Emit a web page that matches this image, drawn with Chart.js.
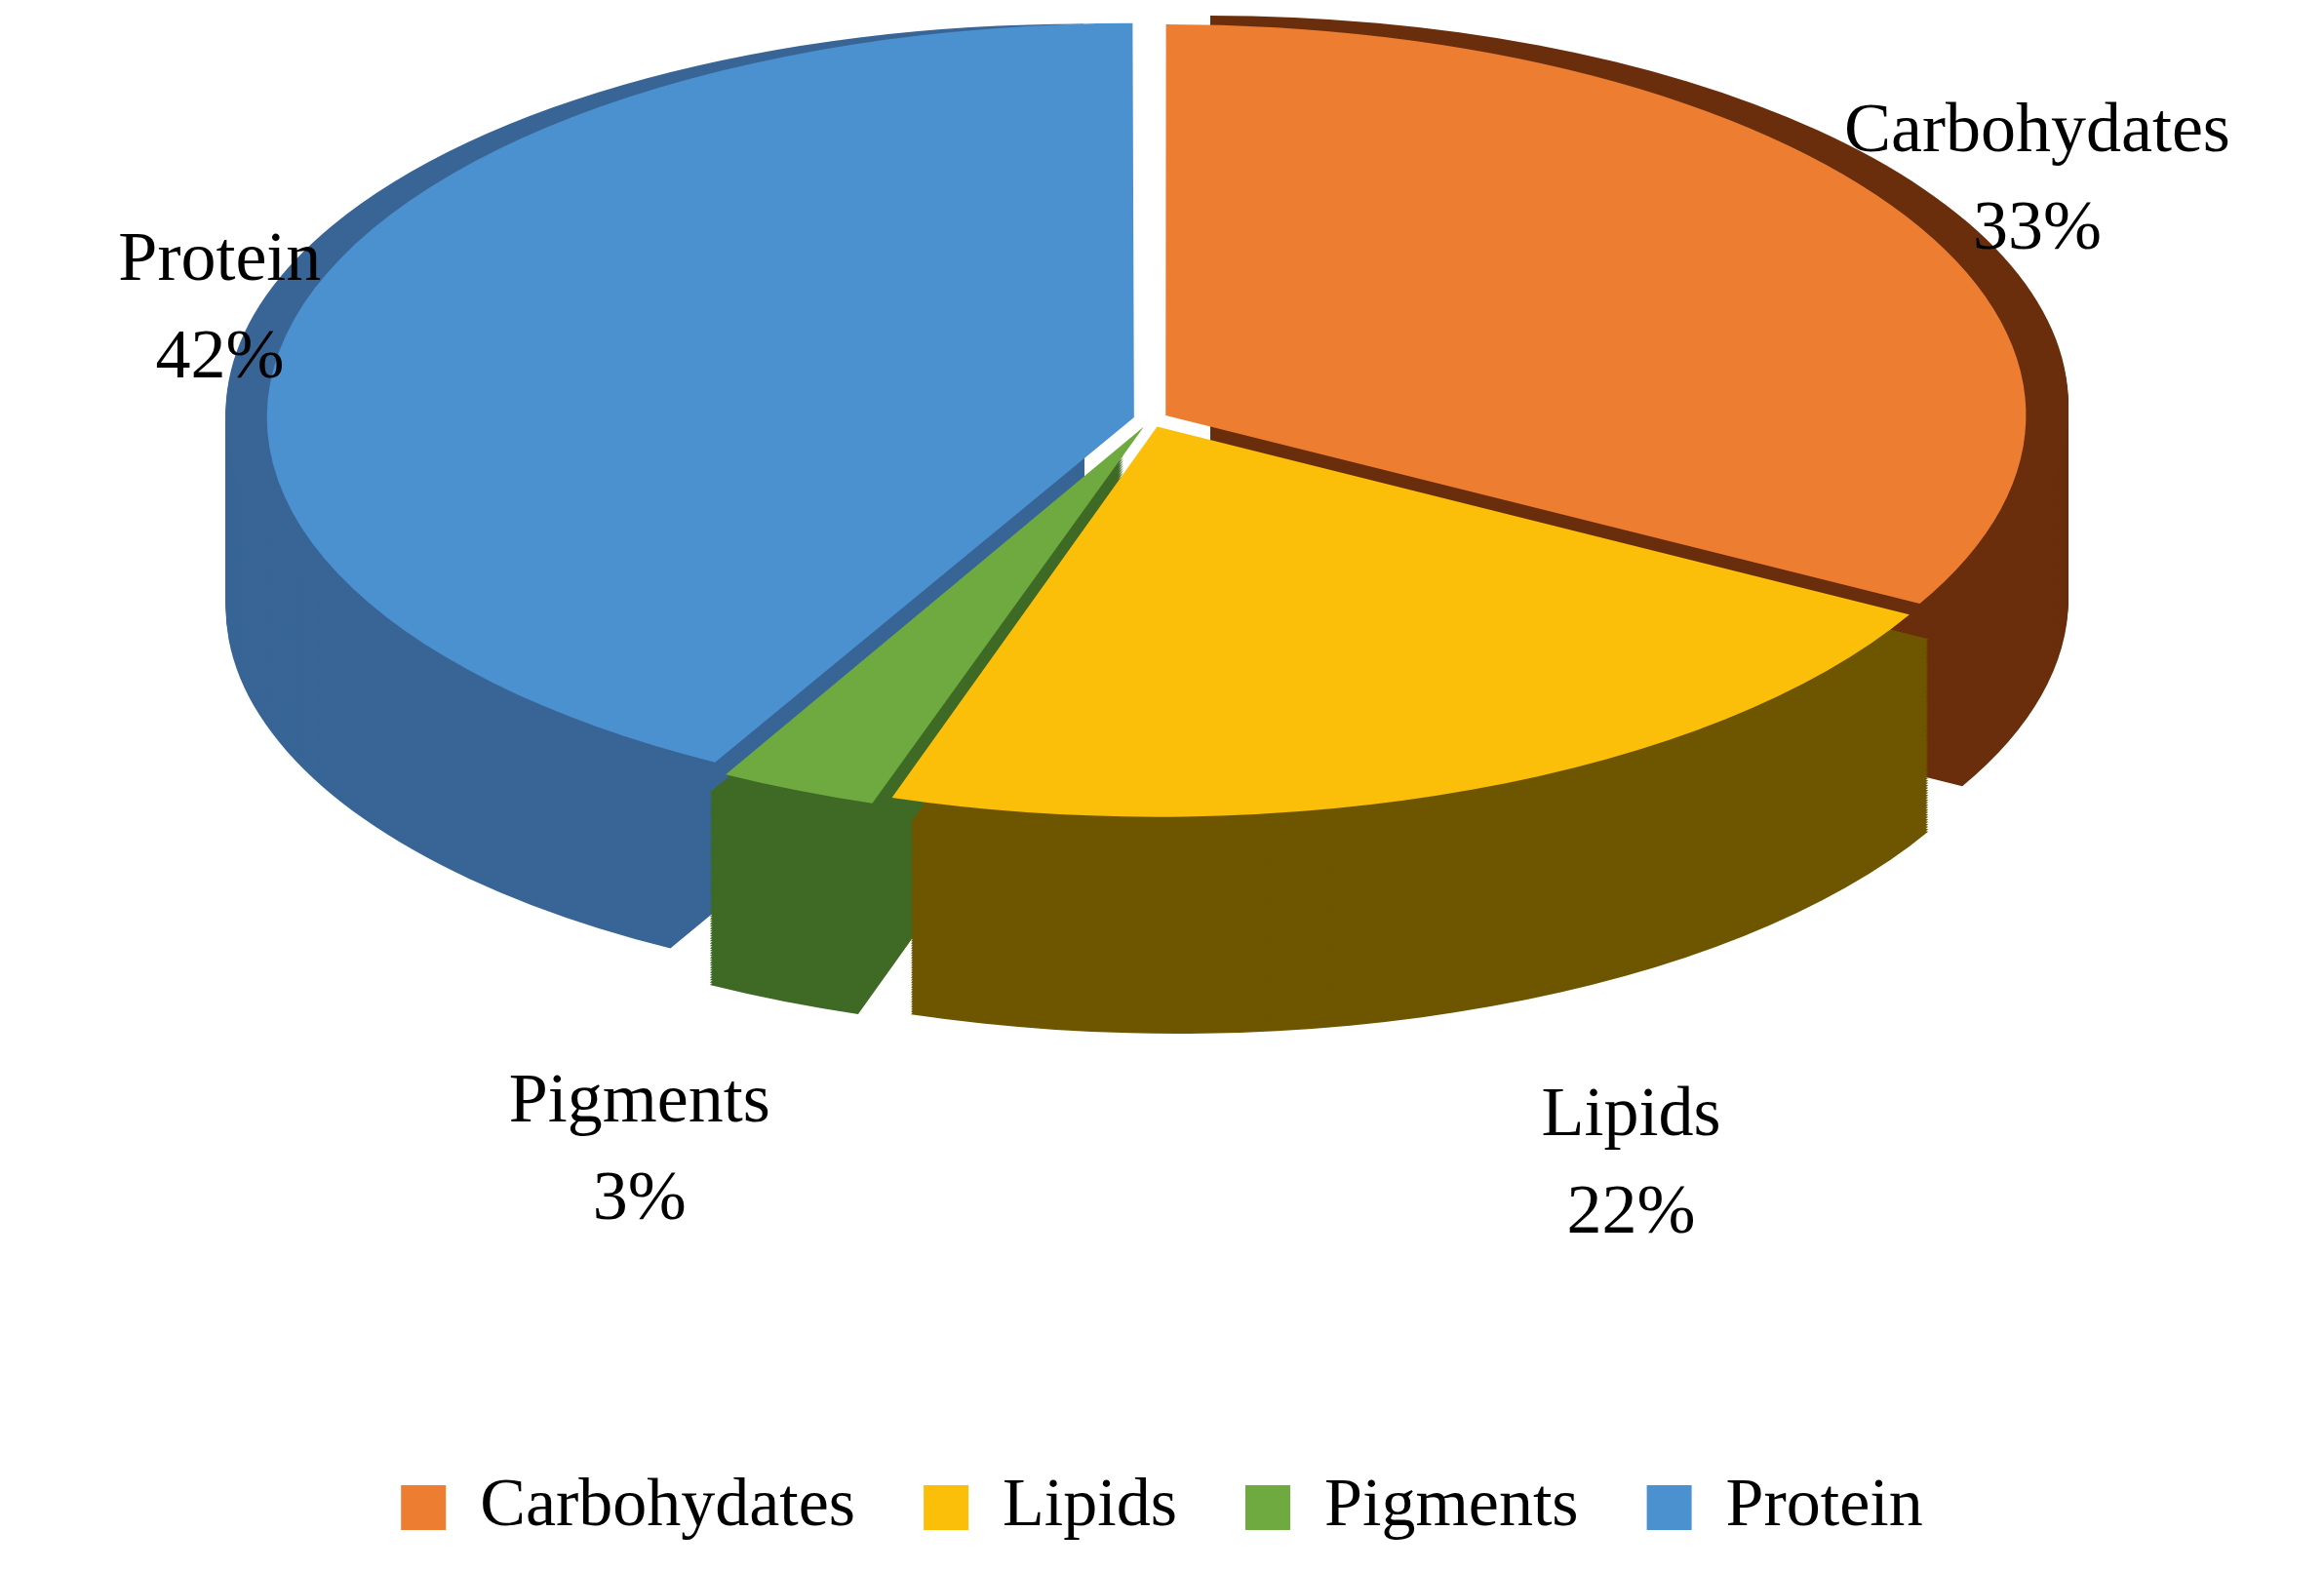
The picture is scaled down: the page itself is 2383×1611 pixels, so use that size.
<!DOCTYPE html>
<html>
<head>
<meta charset="utf-8">
<script src="https://cdn.jsdelivr.net/npm/chart.js@4/dist/chart.umd.min.js"></script>
<style>
body{margin:0;background:#fff}
</style>
</head>
<body>
<canvas id="grafico" width="2383" height="1611"></canvas>
<script>
// dados do grafico
let categorias=['Carbohydates','Lipids','Pigments','Protein']
let valores=[33, 22, 3, 42]
let rotulos=['33%','22%','3%','42%']
let cores=['#ED7D31','#FBBF0A','#6EAA3F','#4B90CF']
let coresLado=['#6A2E0C','#6E5600','#3E6A25','#386596']

// onde fica a pizza "3d"
let centroX=1180, centroY=430, raioX=880, raioY=400, profund=200
let fatorRotulo=[1.2,1.52,1.5,1.12]

function escala(arc){
    return {sx:raioX/arc.outerRadius, sy:raioY/arc.outerRadius}
}

const pizza3d={
    id:'pizza3d',
    beforeDatasetsDraw(chart){
        const ctx=chart.ctx
        const arcs=chart.getDatasetMeta(0).data
        const s=escala(arcs[0])
        ctx.save()
        ctx.translate(centroX,centroY)
        ctx.scale(s.sx,s.sy)
        ctx.translate(-arcs[0].x,-arcs[0].y)
        let passos=80
        for(let k=passos;k>=1;k--){
            let dy=(profund/s.sy)*k/passos
            arcs.forEach((arc,i)=>{
                let meio=(arc.startAngle+arc.endAngle)/2
                let off=arc.options.offset||0
                let ox=arc.x+Math.cos(meio)*off
                let oy=arc.y+Math.sin(meio)*off+dy
                ctx.beginPath()
                ctx.moveTo(ox,oy)
                ctx.arc(ox,oy,arc.outerRadius,arc.startAngle,arc.endAngle)
                ctx.closePath()
                ctx.fillStyle=coresLado[i]
                ctx.fill()
            })
        }
    },
    afterDatasetsDraw(chart){
        chart.ctx.restore()
    },
    afterDraw(chart){
        const ctx=chart.ctx
        const arcs=chart.getDatasetMeta(0).data
        const s=escala(arcs[0])
        ctx.save()
        ctx.font='72px "Liberation Serif", serif'
        ctx.fillStyle='#000'
        ctx.textAlign='center'
        ctx.textBaseline='middle'
        arcs.forEach((arc,i)=>{
            let meio=(arc.startAngle+arc.endAngle)/2
            let r=arc.outerRadius*fatorRotulo[i]
            let x=centroX+Math.cos(meio)*r*s.sx
            let y=centroY+Math.sin(meio)*r*s.sy
            if(Math.sin(meio)>0) y+=profund
            ctx.fillText(categorias[i],x,y-50)
            ctx.fillText(rotulos[i],x,y+50)
        })
        ctx.restore()
    }
}

const ctx=document.getElementById('grafico')
let a=new Chart(ctx,{
    type:'pie',
    data:{
        labels:categorias,
        datasets:[{
            data:valores,
            backgroundColor:cores,
            borderWidth:0,
            offset:55,
            hoverOffset:0,
            clip:false
        }]
    },
    options:{
        responsive:false,
        animation:false,
        events:[],
        layout:{padding:{top:20,bottom:20}},
        plugins:{
            tooltip:{enabled:false},
            legend:{
                position:'bottom',
                labels:{
                    font:{size:70,family:'"Liberation Serif", serif'},
                    color:'#000',
                    boxWidth:46,
                    boxHeight:46,
                    padding:70
                }
            }
        }
    },
    plugins:[pizza3d]
})
</script>
</body>
</html>
